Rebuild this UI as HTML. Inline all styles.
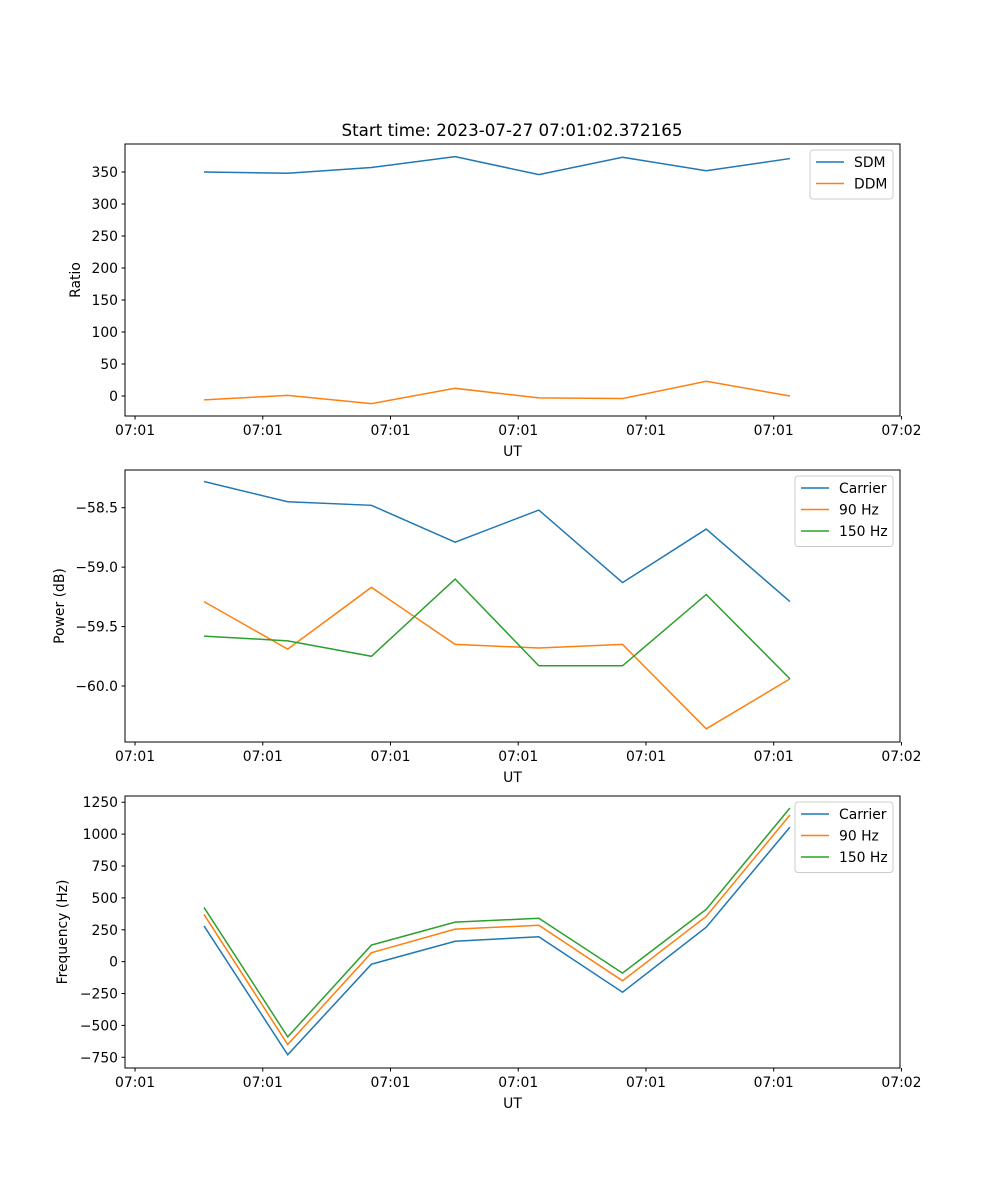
<!DOCTYPE html>
<html><head><meta charset="utf-8"><style>
html,body{margin:0;padding:0;background:#fff}
svg{display:block;font-family:"DejaVu Sans","Liberation Sans",sans-serif}
</style></head><body>
<svg id="fig" width="1000" height="1200" viewBox="0 0 1000 1200"></svg>
<script>
const xTickLabels=["07:01","07:01","07:01","07:01","07:01","07:01","07:02"];
const xTickIdx=[-0.824,0.702,2.228,3.754,5.28,6.806,8.332];
const sdm=[350,348,357,374,346,373,352,371];
const ddm=[-6,1,-12,12,-3,-4,23,0];
const pCarrier=[-58.28,-58.45,-58.48,-58.79,-58.52,-59.13,-58.68,-59.29];
const p90=[-59.29,-59.69,-59.17,-59.65,-59.68,-59.65,-60.36,-59.94];
const p150=[-59.58,-59.62,-59.75,-59.10,-59.83,-59.83,-59.23,-59.94];
const fCarrier=[280,-730,-20,160,195,-240,270,1055];
const f90=[370,-650,70,255,285,-150,355,1150];
const f150=[425,-590,130,310,340,-90,410,1205];
const ticks1=[0,50,100,150,200,250,300,350];
const ticks2=[-60.0,-59.5,-59.0,-58.5];
const ticks3=[-750,-500,-250,0,250,500,750,1000,1250];

const NS="http://www.w3.org/2000/svg";
const svg=document.getElementById('fig');
function mk(tag,attrs,parent,text){const e=document.createElementNS(NS,tag);for(const k in attrs)e.setAttribute(k,attrs[k]);if(text!==undefined)e.textContent=text;(parent||svg).appendChild(e);return e;}
const L=125,R=900;
const xMin=-0.944,xMax=8.315;
function xs(i){return L+(i-xMin)/(xMax-xMin)*(R-L);}
const C=["#1f77b4","#ff7f0e","#2ca02c"];

function panel(name,top,bot,yMin,yMax,ticks,fmt,ylabel,ylx,series,names,leg){
  const g=mk('g',{});
  
  
  const ys=v=>bot-(v-yMin)/(yMax-yMin)*(bot-top);
  series.forEach((s,k)=>{
    const p=mk('polyline',{points:s.map((v,i)=>xs(i)+','+ys(v)).join(' '),fill:'none',stroke:C[k],'stroke-width':1.5},g);
    
    
  });
  const fr=mk('rect',{x:L,y:top,width:R-L,height:bot-top,fill:'none',stroke:'#000','stroke-width':1},g);
  
  
  ticks.forEach(t=>{const y=ys(t);
    mk('line',{x1:L-3.5,x2:L,y1:y,y2:y,stroke:'#000'},g);
    const tx=mk('text',{x:L-7,y:y+5,'text-anchor':'end','font-size':13.9},g,fmt(t));
    
    
  });
  xTickIdx.forEach((ti,j)=>{const x=xs(ti);
    mk('line',{x1:x,x2:x,y1:bot,y2:bot+3.5,stroke:'#000'},g);
    const tx=mk('text',{x:x,y:bot+19,'text-anchor':'middle','font-size':13.9},g,xTickLabels[j]);
    
    
  });
  const xl=mk('text',{x:(L+R)/2,y:bot+40,'text-anchor':'middle','font-size':13.9},g,'UT');
  
  
  const cy=(top+bot)/2;
  const yl=mk('text',{x:ylx,y:cy,'text-anchor':'middle','font-size':13.9,transform:`rotate(-90 ${ylx} ${cy})`},g,ylabel);
  
  
  const lg=mk('g',{},g);
  
  
  mk('rect',{x:leg[0],y:top+6,width:leg[1],height:names.length*21.5+6,rx:3,fill:'#fff',stroke:'#ccc','fill-opacity':0.8},lg);
  names.forEach((n,k)=>{const y=top+18+k*21.5;
    const e=mk('g',{},lg);
    
    
    mk('line',{x1:leg[0]+6,x2:leg[0]+34,y1:y,y2:y,stroke:C[k],'stroke-width':1.5},e);
    mk('text',{x:leg[0]+44,y:y+5,'font-size':13.9},e,n);
  });
}
const minus=s=>s.replace('-','\u2212');
const t=mk('text',{x:512,y:136,'text-anchor':'middle','font-size':16.7},svg,'Start time: 2023-07-27 07:01:02.372165');


panel('ratio-panel',144,416,-31.25,393.75,ticks1,v=>minus(String(v)),'Ratio',80,[sdm,ddm],['SDM','DDM'],[810,83]);
panel('power-panel',470,742,-60.471,-58.183,ticks2,v=>minus(v.toFixed(1)),'Power (dB)',64,[pCarrier,p90,p150],['Carrier','90 Hz','150 Hz'],[795,98]);
panel('frequency-panel',796,1068,-834,1299,ticks3,v=>minus(String(v)),'Frequency (Hz)',67,[fCarrier,f90,f150],['Carrier','90 Hz','150 Hz'],[795,98]);
</script>
</body></html>
